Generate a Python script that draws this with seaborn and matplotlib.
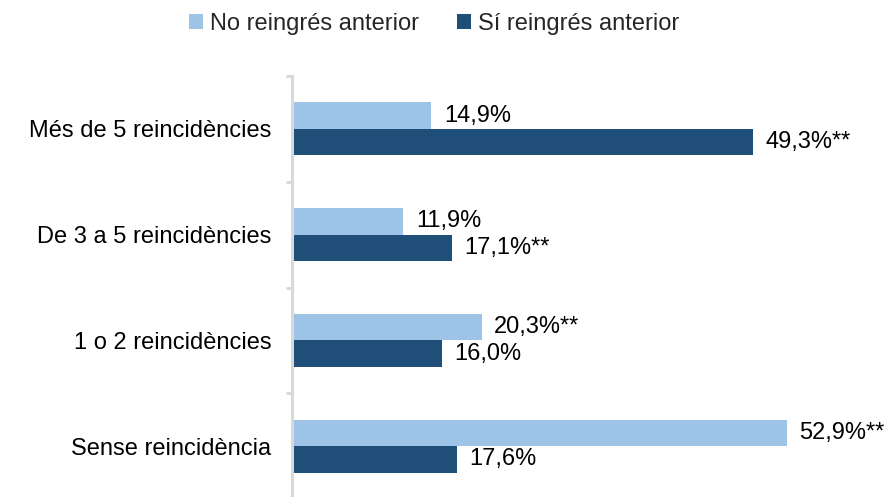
import matplotlib
matplotlib.use("Agg")
import matplotlib.pyplot as plt
import seaborn as sns
import pandas as pd
from matplotlib.patches import Patch

categories = ["Més de 5 reincidències", "De 3 a 5 reincidències",
              "1 o 2 reincidències", "Sense reincidència"]
series_names = ["No reingrés anterior", "Sí reingrés anterior"]
no_reingres = [14.9, 11.9, 20.3, 52.9]
si_reingres = [49.3, 17.1, 16.0, 17.6]
sig_no = ["", "", "**", "**"]
sig_si = ["**", "**", "", ""]
colors = ["#9DC3E6", "#1F4E79"]

df = pd.DataFrame({
    "cat": categories * 2,
    "val": no_reingres + si_reingres,
    "group": [series_names[0]] * 4 + [series_names[1]] * 4,
})

sns.set_style("white")
plt.rcParams["font.family"] = ["Liberation Sans", "DejaVu Sans"]
FS = 17

fig = plt.figure(figsize=(8.85, 4.97), dpi=100)
ax = fig.add_axes([292 / 885, -2 / 497, 1 - 292 / 885, 1 - 74 / 497])

sns.barplot(data=df, y="cat", x="val", hue="group", orient="h",
            palette=colors, width=0.5, gap=0, saturation=1,
            linewidth=0, order=categories, hue_order=series_names,
            legend=False, ax=ax)

ax.set_xlim(0, 63.4)
ax.set_ylim(3.5, -0.5)
ax.set_xlabel("")
ax.set_ylabel("")
ax.set_xticks([])

for s in ["top", "right", "bottom"]:
    ax.spines[s].set_visible(False)
ax.spines["left"].set_color("#D9D9D9")
ax.spines["left"].set_linewidth(2.2)

ax.set_yticks(range(len(categories)))
ax.set_yticklabels(categories, fontsize=FS, color="#000000")
ax.tick_params(axis="y", which="major", left=True, length=0, pad=15)
ax.set_yticks([-0.5, 0.5, 1.5, 2.5, 3.5], minor=True)
ax.tick_params(axis="y", which="minor", left=True, length=4.5, width=2.2,
               color="#D9D9D9", direction="out")

def fmt(v, sig):
    return f"{v:.1f}".replace(".", ",") + "%" + sig

labels_sets = [[fmt(v, s) for v, s in zip(no_reingres, sig_no)],
               [fmt(v, s) for v, s in zip(si_reingres, sig_si)]]
for cont, labs in zip(ax.containers, labels_sets):
    texts = ax.bar_label(cont, labels=labs, padding=9, fontsize=FS, color="#000000")
    for t in texts:
        t.set_y(t.get_position()[1])
        t.set_va("center")
        t.set_transform(t.get_transform() + matplotlib.transforms.ScaledTranslation(0, -3 / 100, fig.dpi_scale_trans))

handles = [Patch(facecolor=c, edgecolor="none", label=n)
           for c, n in zip(colors, series_names)]
fig.legend(handles=handles, loc="center", bbox_to_anchor=(434 / 885, 1 - 24 / 497),
           ncol=2, frameon=False, fontsize=FS, handlelength=0.6,
           handleheight=0.6, handletextpad=0.3, columnspacing=1.6)

fig.savefig("out.png", dpi=100)
